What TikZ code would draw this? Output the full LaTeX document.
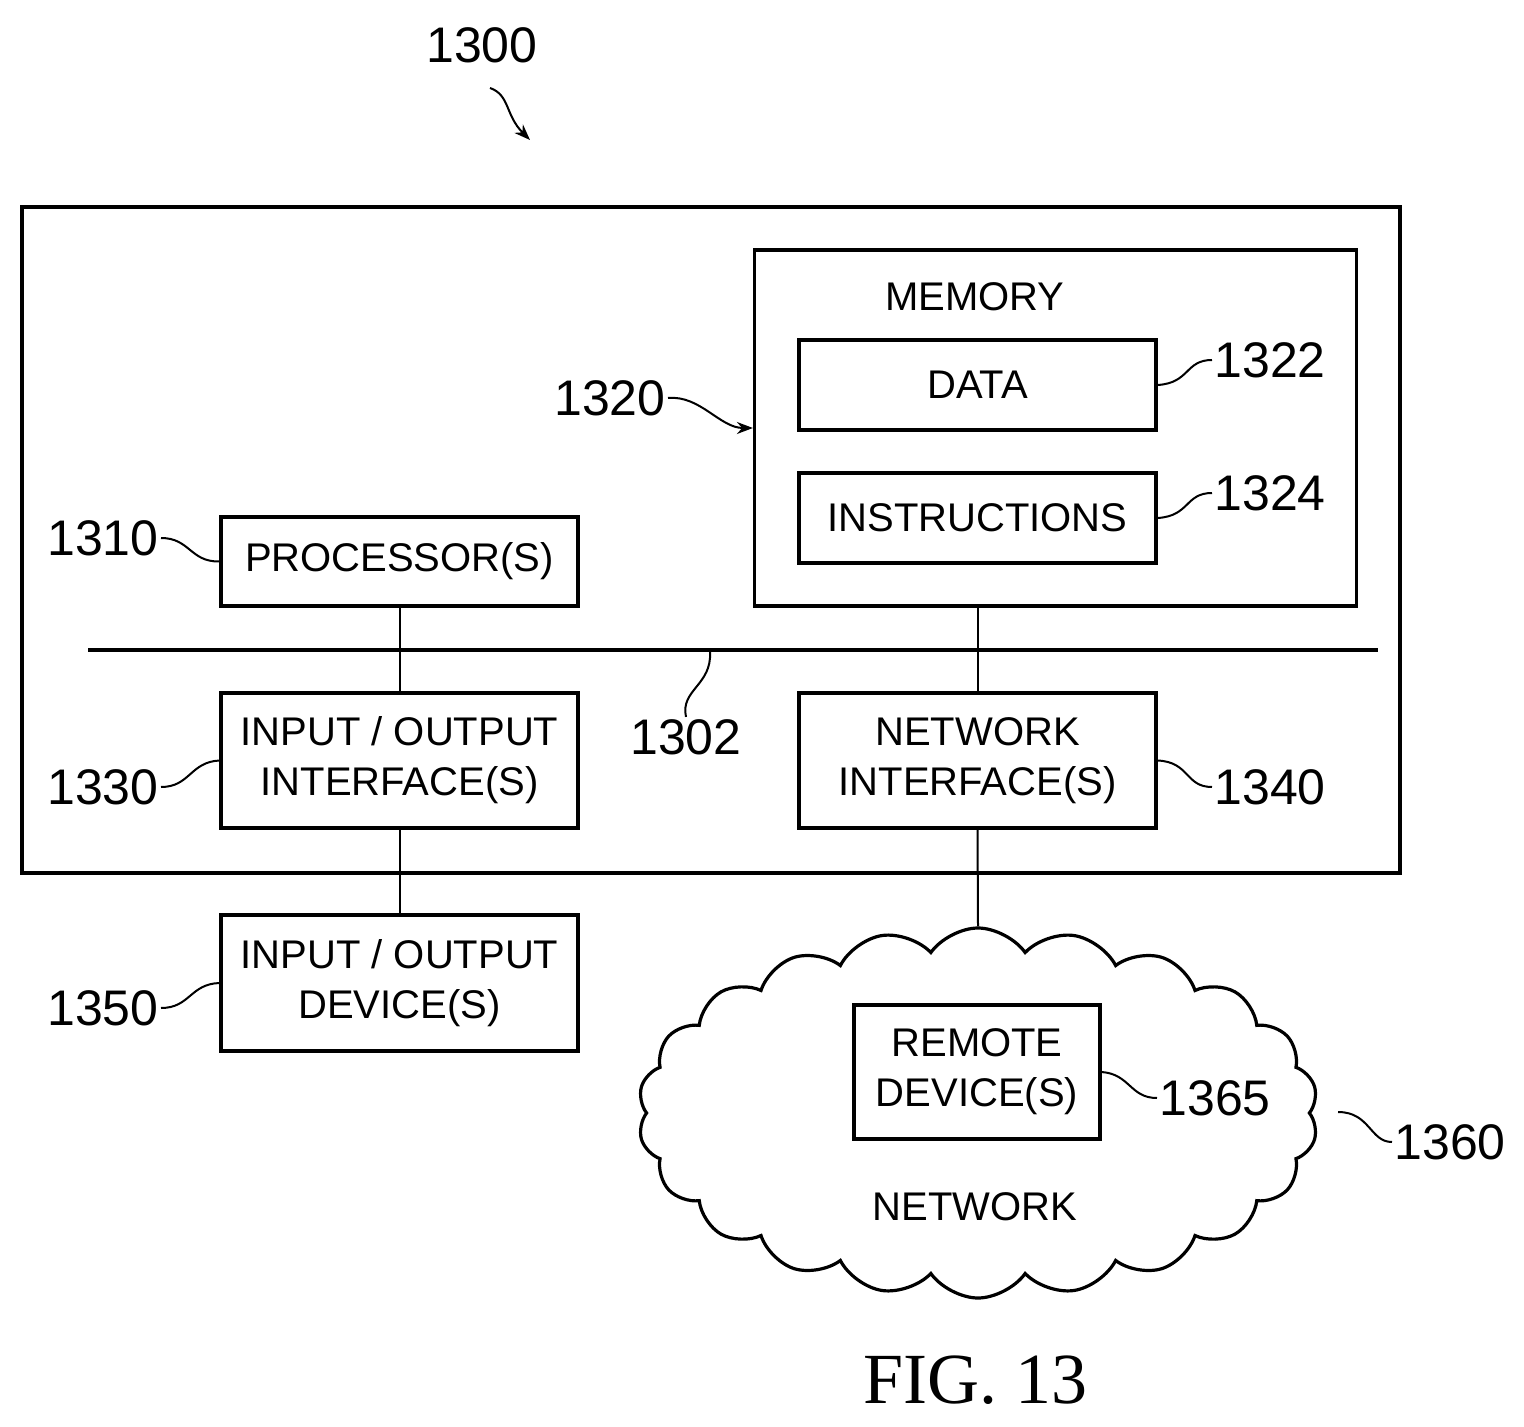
\documentclass[tikz,border=0pt]{standalone}
\usepackage{fontspec}
\setmainfont{Liberation Sans}
\newfontfamily\figfont{Liberation Serif}
\usetikzlibrary{shapes.symbols,arrows.meta}
\begin{document}
\begin{tikzpicture}[x=0.5pt,y=-0.5pt,
  box/.style={draw,line width=1.6pt,inner sep=0pt,align=center,font=\fontsize{20}{25}\selectfont},
  lbl/.style={font=\fontsize{25}{28}\selectfont,inner sep=1pt},
  wire/.style={line width=1pt},
  sq/.style={line width=1pt}]
\useasboundingbox (0,0) rectangle (1524,1427);
\draw[line width=1.8pt] (22,207) rectangle (1400,873);
\node[box,minimum width=301pt,minimum height=178pt] (mem) at (1055.5,428) {};
\node[font=\fontsize{20}{24}\selectfont] (memt) at (975,297) {MEMORY};
\node[box,minimum width=178.5pt,minimum height=45pt] (data) at (977.5,385) {DATA};
\node[box,minimum width=178.5pt,minimum height=45pt] (ins) at (977.5,518) {INSTRUCTIONS};
\node[box,minimum width=178.5pt,minimum height=44.5pt] (proc) at (399.5,561.5) {PROCESSOR(S)};
\node[box,minimum width=178.5pt,minimum height=67.5pt] (ioi) at (399.5,760.5) {INPUT / OUTPUT\\INTERFACE(S)};
\node[box,minimum width=178.5pt,minimum height=67.5pt] (ni) at (977.5,760.5) {NETWORK\\INTERFACE(S)};
\node[box,minimum width=178.5pt,minimum height=68pt] (iod) at (399.5,983) {INPUT / OUTPUT\\DEVICE(S)};
\node[cloud,draw,line width=1.6pt,cloud puffs=22,cloud puff arc=110,aspect=1.8,minimum width=340pt,minimum height=185pt,inner sep=0pt] (net) at (978,1113) {};
\node[box,minimum width=123pt,minimum height=67pt] (rd) at (977,1072) {REMOTE\\DEVICE(S)};
\node[font=\fontsize{20}{24}\selectfont] (nett) at (975,1207) {NETWORK};
\node[font=\figfont\fontsize{36}{40}\selectfont] (fig) at (975,1380) {FIG. 13};
\coordinate (bl) at (88,650); \coordinate (br) at (1378,650);
\draw[line width=1.6pt] (bl) -- (br);
\draw[wire] (proc.south) -- (ioi.north);
\draw[wire] (mem.south -| ni.north) -- (ni.north);
\draw[wire] (ioi.south) -- (iod.north);
\draw[wire] (ni.south) -- (net.north);
% labels
\node[lbl] (l1300) at (482,45) {1300};
\coordinate (a1300) at (530,140);
\draw[sq,-{Stealth[length=8pt]}] (490,88) .. controls (510,95) and (505,115) .. (a1300);
\node[lbl] (l1320) at (610,398) {1320};
\draw[sq,-{Stealth[length=8pt]}] (l1320.east) .. controls (700,395) and (720,428) .. (mem.west |- 0,428);
\node[lbl] (l1322) at (1270,360) {1322};
\draw[sq] (data.east) .. controls (1190,383) and (1185,360) .. (l1322.west);
\node[lbl] (l1324) at (1270,493) {1324};
\draw[sq] (ins.east) .. controls (1190,516) and (1185,493) .. (l1324.west);
\node[lbl] (l1310) at (103,538) {1310};
\draw[sq] (l1310.east) .. controls (190,538) and (190,562) .. (proc.west);
\node[lbl] (l1302) at (686,737) {1302};
\coordinate (b1302) at (710,652);
\draw[sq] (l1302.north) .. controls (680,690) and (712,685) .. (b1302);
\node[lbl] (l1330) at (103,787) {1330};
\draw[sq] (l1330.east) .. controls (190,787) and (190,762) .. (ioi.west);
\node[lbl] (l1340) at (1270,787) {1340};
\draw[sq] (ni.east) .. controls (1190,762) and (1185,787) .. (l1340.west);
\node[lbl] (l1350) at (103,1008) {1350};
\draw[sq] (l1350.east) .. controls (190,1008) and (190,984) .. (iod.west);
\node[lbl] (l1365) at (1215,1098) {1365};
\draw[sq] (rd.east) .. controls (1130,1074) and (1130,1098) .. (l1365.west);
\node[lbl] (l1360) at (1450,1142) {1360};
\draw[sq] (1338,1112) .. controls (1370,1112) and (1370,1142) .. (l1360.west);
\end{tikzpicture}
\end{document}
